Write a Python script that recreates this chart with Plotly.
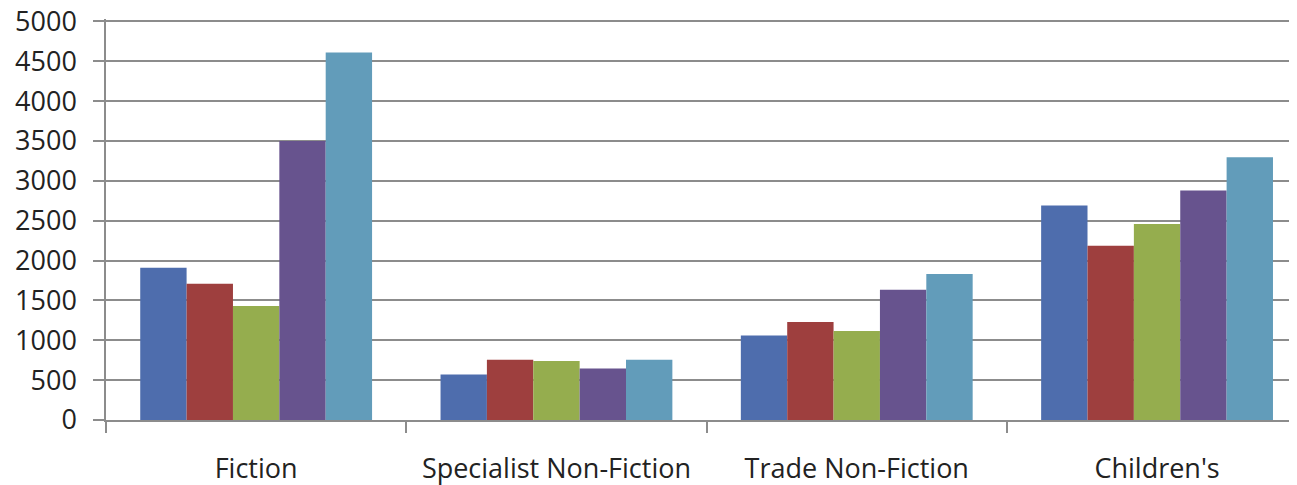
import plotly.graph_objects as go

categories = ["Fiction", "Specialist Non-Fiction", "Trade Non-Fiction", "Children's"]
series_names = ["Series 1", "Series 2", "Series 3", "Series 4", "Series 5"]
series1 = [1910, 570, 1060, 2690]
series2 = [1710, 755, 1230, 2185]
series3 = [1430, 740, 1115, 2460]
series4 = [3500, 645, 1635, 2880]
series5 = [4610, 755, 1830, 3295]
y_ticks = [0, 500, 1000, 1500, 2000, 2500, 3000, 3500, 4000, 4500, 5000]

colors = ["#4E6DAD", "#9E3F3E", "#95AD4E", "#67538E", "#629CBA"]
all_series = [series1, series2, series3, series4, series5]

fig = go.Figure()
for name, vals, col in zip(series_names, all_series, colors):
    fig.add_trace(go.Bar(x=categories, y=vals, name=name, marker_color=col,
                         marker_line_width=0))

font_family = "Open Sans, Liberation Sans, sans-serif"
fig.update_layout(
    width=1289, height=477,
    margin=dict(l=98, r=0, t=11, b=65),
    paper_bgcolor="white", plot_bgcolor="white",
    barmode="group", bargap=0.228, bargroupgap=0,
    showlegend=False,
    font=dict(family=font_family, size=27, color="#222222"),
)
fig.update_xaxes(
    type="category", range=[-0.5, 3.466], automargin=False,
    showline=True, linecolor="#8c8c8c", linewidth=1.5,
    ticks="outside", tickson="boundaries", ticklen=11, tickcolor="#8c8c8c", tickwidth=1.5,
    showgrid=False, ticklabelstandoff=24,
    tickfont=dict(size=27, color="#222222"),
)
fig.update_yaxes(
    range=[0, 5030], tickvals=y_ticks, automargin=False,
    showline=True, linecolor="#8c8c8c", linewidth=1.5,
    ticks="outside", ticklen=11, tickcolor="#8c8c8c", tickwidth=1.5,
    showgrid=True, gridcolor="#8c8c8c", gridwidth=1.5,
    zeroline=False, ticklabelstandoff=11, ticklabeloverflow="allow",
    tickfont=dict(size=27, color="#222222"),
)

fig.write_html("out.html")
